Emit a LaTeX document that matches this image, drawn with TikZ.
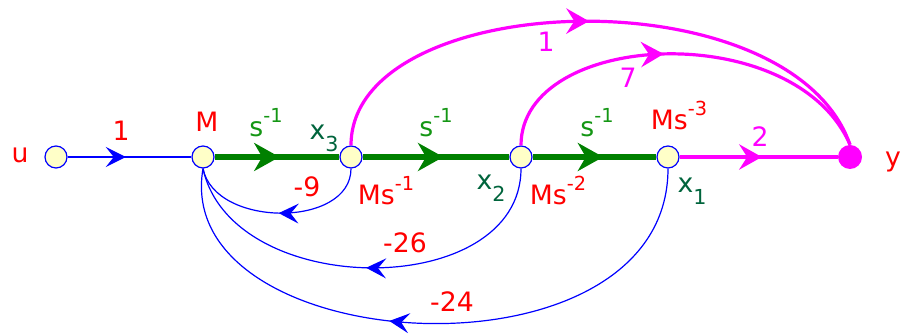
\documentclass[tikz,border=0pt]{standalone}
\usepackage{fontspec}
\setmainfont{DejaVu Sans}
\usetikzlibrary{arrows.meta,decorations.markings}

\definecolor{sigred}{RGB}{255,0,0}
\definecolor{siggreen}{RGB}{20,150,20}
\definecolor{fwdgreen}{RGB}{0,128,0}
\definecolor{stategreen}{RGB}{0,100,60}
\definecolor{outmag}{RGB}{255,0,255}
\definecolor{nodefill}{RGB}{255,255,200}

\newcommand{\upidx}[1]{\raisebox{11pt}{\fontsize{14.5}{16}\selectfont #1}}
\newcommand{\lowidx}[1]{\raisebox{-9pt}{\fontsize{15.5}{18}\selectfont #1}}

\tikzset{
  bluetip/.tip={Stealth[length=15pt,width=15pt,inset=6pt]},
  greentip/.tip={Stealth[length=19pt,width=21pt,inset=6pt]},
  magtip/.tip={Stealth[length=17pt,width=19pt,inset=6pt]},
  signode/.style={circle,draw=blue,fill=nodefill,line width=0.9pt,
    minimum size=16.5pt,inner sep=0pt},
  outnode/.style={circle,fill=outmag,minimum size=18pt,inner sep=0pt},
  midtip/.style 2 args={postaction={decorate},decoration={markings,
    mark=at position #1 with {\arrow{#2}}}},
  fb/.style={blue,line width=0.9pt,midtip={#1}{bluetip}},
  fwd/.style={fwdgreen,line width=4.2pt,midtip={#1}{greentip}},
  ff/.style={outmag,line width=2.4pt,midtip={#1}{magtip}},
  lbl/.style={anchor=base,inner sep=0pt,font=\fontsize{20}{24}\selectfont}
}

\begin{document}
\begin{tikzpicture}[x=0.75pt,y=-0.75pt]
\useasboundingbox (0,0) rectangle (904,334);

% signal nodes
\node[signode] (u) at (56,157) {};
\node[signode] (M) at (203,157) {};
\node[signode] (x3) at (351,157) {};
\node[signode] (x2) at (521,157) {};
\node[signode] (x1) at (668,157) {};
\node[outnode] (y) at (850,157) {};

% input branch
\draw[fb=0.47] (u) -- (M);

% integrator chain
\draw[fwd=0.52] (M) -- (x3);
\draw[fwd=0.55] (x3) -- (x2);
\draw[fwd=0.57] (x2) -- (x1);

% output branches
\draw[ff=0.52] (x1) -- (y);
\draw[ff=0.49] (x3.north) .. controls (351,-12) and (790,-28) .. (y.north);
\draw[ff=0.46] (x2.north) .. controls (521,30) and (795,17) .. (y.north);

% feedback branches
\draw[fb=0.5] (x3.south) .. controls (351,228) and (215,228) .. (M.south);
\draw[fb=0.5] (x2.south) .. controls (521,301) and (232,301) .. (M.south);
\draw[fb=0.57] (x1.south) .. controls (668,390) and (170,360) .. (M.south);

% labels
\node[lbl,text=sigred] (lu) at (20,163) {u};
\node[lbl,text=sigred] (ly) at (893,167) {y};
\node[lbl,text=sigred] (lin) at (121,141) {1};
\node[lbl,text=sigred] (lM) at (207,132) {M};
\node[lbl,text=siggreen] (ls1) at (266,137) {s\upidx{-1}};
\node[lbl,text=siggreen] (ls2) at (436,137) {s\upidx{-1}};
\node[lbl,text=siggreen] (ls3) at (597,137) {s\upidx{-1}};
\node[lbl,text=stategreen] (lx3) at (324,140) {x\lowidx{3}};
\node[lbl,text=stategreen] (lx2) at (491,190) {x\lowidx{2}};
\node[lbl,text=stategreen] (lx1) at (692,193) {x\lowidx{1}};
\node[lbl,text=sigred] (lm1) at (386,205) {Ms\upidx{-1}};
\node[lbl,text=sigred] (lm2) at (558,205) {Ms\upidx{-2}};
\node[lbl,text=sigred] (lm3) at (679,130) {Ms\upidx{-3}};
\node[lbl,text=outmag] (lc2) at (760,147) {2};
\node[lbl,text=outmag] (lc1) at (546,52) {1};
\node[lbl,text=outmag] (lc7) at (628,88) {7};
\node[lbl,text=sigred] (la9) at (307,197) {-9};
\node[lbl,text=sigred] (la26) at (405,253) {-26};
\node[lbl,text=sigred] (la24) at (452,312) {-24};

\end{tikzpicture}
\end{document}
